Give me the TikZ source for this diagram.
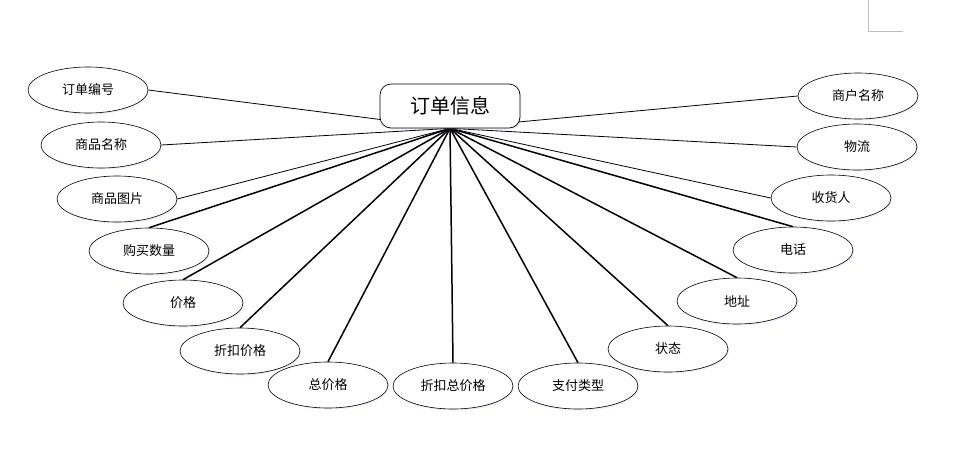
\documentclass[tikz,border=0pt]{standalone}
\usepackage{fontspec}
\setmainfont{Noto Sans CJK SC}
\usetikzlibrary{positioning, shapes.geometric, shadows, backgrounds}

\begin{document}
\begin{tikzpicture}[
		x=1pt, y=-1pt,
		attr/.style={
			draw,
			ellipse,
			fill=white,
			line width=0.6pt,
			minimum width=120pt,
			minimum height=46pt,
			inner sep=0pt,
			font=\fontsize{13}{15}\selectfont,
			drop shadow={shadow xshift=1.2pt, shadow yshift=-1.5pt, fill=blue!40, opacity=0.18}
		},
		entity/.style={
			draw,
			rounded corners=11pt,
			fill=white,
			line width=0.7pt,
			minimum width=140pt,
			minimum height=44pt,
			font=\fontsize{20}{24}\selectfont,
			drop shadow={shadow xshift=1.2pt, shadow yshift=-1.5pt, fill=blue!40, opacity=0.18}
		},
		thin link/.style={line width=0.8pt},
		thick link/.style={line width=1.5pt}
		]
		
		\useasboundingbox (0,0) rectangle (966,456);
		
		% Page corner mark
		\draw[black!25, line width=0.8pt] (868,0) -- (868,31) -- (903,31);
		
		% Central entity
		\node[entity] at (450,106) (info) {订单信息};
		\coordinate (hub) at (info.south);
		
		% Attributes, left side
		\node[attr] at (88,90) (orderno) {订单编号};
		\node[attr] at (101,145) (goodsname) {商品名称};
		\node[attr] at (117,199) (goodspic) {商品图片};
		\node[attr] at (149,251) (amount) {购买数量};
		\node[attr] at (183,303) (price) {价格};
		\node[attr] at (240,351) (discount) {折扣价格};
		\node[attr] at (328,385) (total) {总价格};
		\node[attr] at (453,386) (distotal) {折扣总价格};
		\node[attr] at (578,386) (paytype) {支付类型};
		
		% Attributes, right side
		\node[attr] at (668,349) (state) {状态};
		\node[attr] at (737,301) (address) {地址};
		\node[attr] at (793,250) (phone) {电话};
		\node[attr] at (831,198) (receiver) {收货人};
		\node[attr] at (857,147) (logistics) {物流};
		\node[attr] at (858,96) (shop) {商户名称};
		
		% Links
		\begin{scope}[on background layer]
			\foreach \n in {orderno, goodsname, goodspic}
				\draw[thin link] (\n.east) -- (hub);
			\foreach \n in {shop, logistics, receiver}
				\draw[thin link] (\n.west) -- (hub);
			\foreach \n in {amount, price, discount, total, distotal, paytype, state, address, phone}
				\draw[thick link] (\n.north) -- (hub);
		\end{scope}
		
	\end{tikzpicture}
\end{document}
